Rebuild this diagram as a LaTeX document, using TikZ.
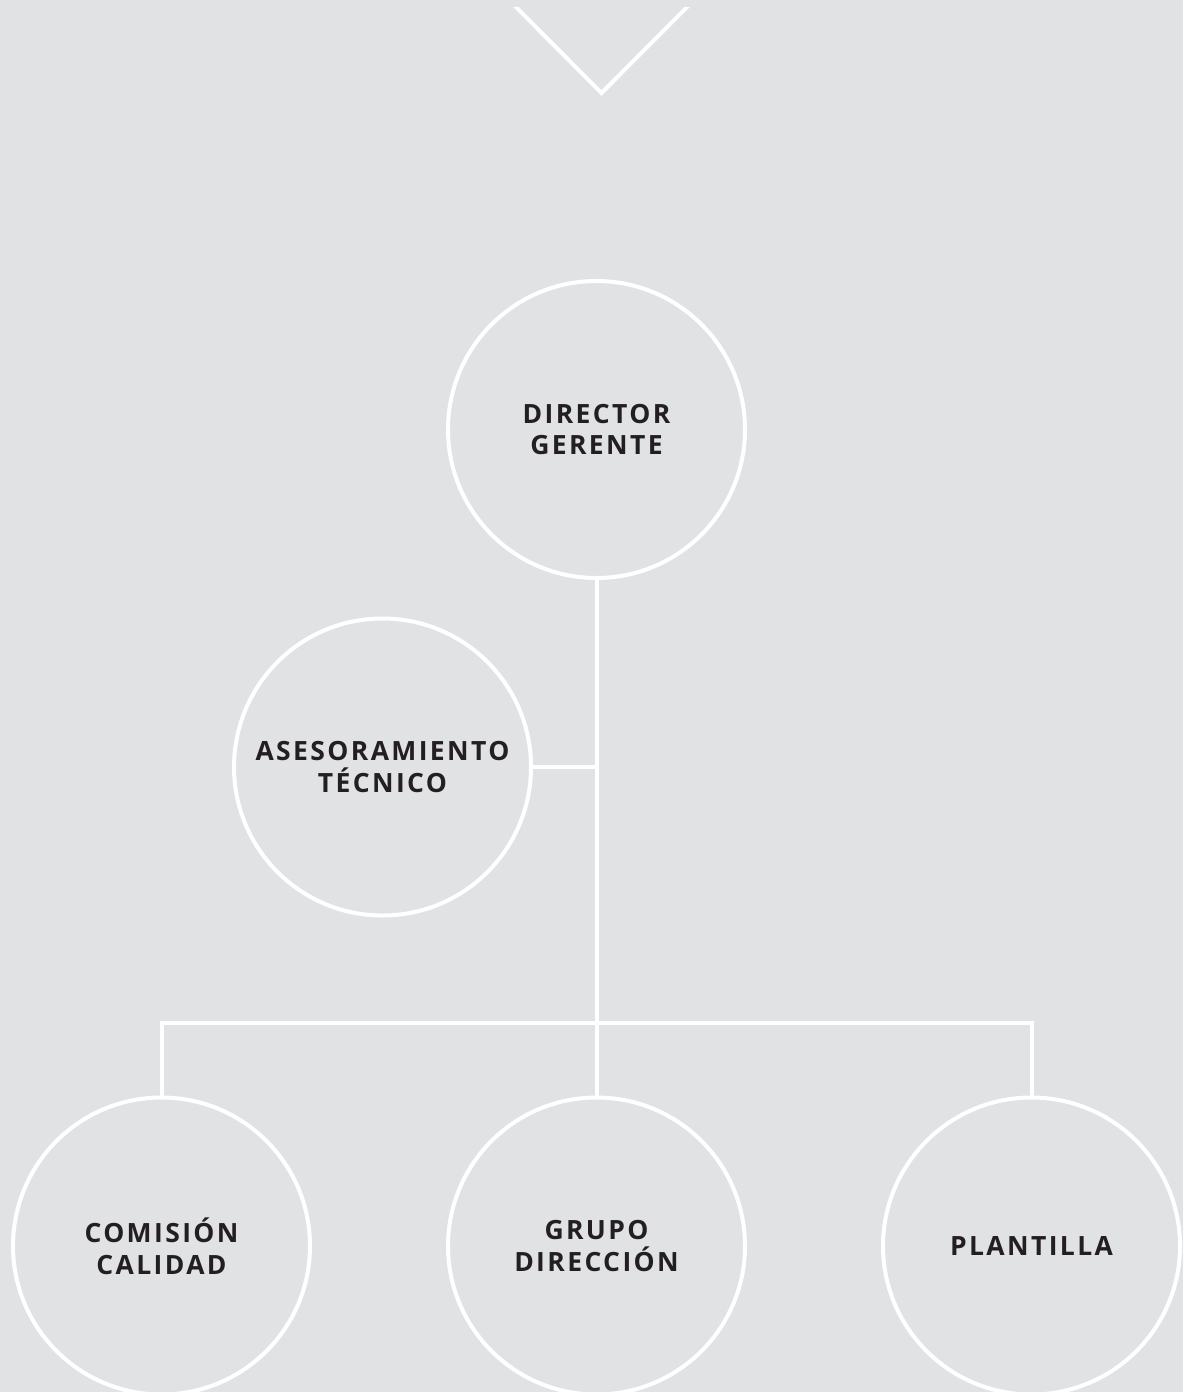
\documentclass[tikz,border=0pt]{standalone}
\usepackage{fontspec}
\newfontfamily\orgfont{Open Sans}[LetterSpace=9]
\usepackage{tikz}
\usetikzlibrary{positioning}
\definecolor{bgGray}{HTML}{E1E2E4}
\definecolor{inkDark}{HTML}{231F20}

\begin{document}
\begin{tikzpicture}[x=1pt,y=-1pt,node distance=435pt,
  line width=4pt,
  org node/.style={circle,draw=white,minimum size=297pt,inner sep=0pt,align=center,
    text=inkDark,font=\orgfont\bfseries\fontsize{26.5}{31.7}\selectfont},
  link/.style={draw=white}]
% background and frame
  \fill[bgGray] (0,0) rectangle (1183,1392);
  \useasboundingbox (0,0) rectangle (1183,1392);
  \clip (0,7) rectangle (1183,1392);

% top chevron
  \draw[white,miter limit=10] (502,-7) -- (601.5,93) -- (701,-7);

% top and adviser
  \node[org node] (dir) at (596.5,429.5) {DIRECTOR\\GERENTE};
  \node[org node] (ases) at (382.5,767) {ASESORAMIENTO\\TÉCNICO};

% bottom row
  \node[org node] (grupo) at (596.5,1246) {GRUPO\\DIRECCIÓN};
  \node[org node] (com) [left of=grupo] {COMISIÓN\\CALIDAD};
  \node[org node] (plant) [right of=grupo] {PLANTILLA};

% links
  \coordinate (junc) at (dir.south |- ases.east);
  \coordinate (bar) at (596.5,1023);
  \path[link]
    (dir.south) -- (grupo.north)
    (ases.east) -- (junc)
    (com.north) |- (bar) -| (plant.north);

\end{tikzpicture}
\end{document}
